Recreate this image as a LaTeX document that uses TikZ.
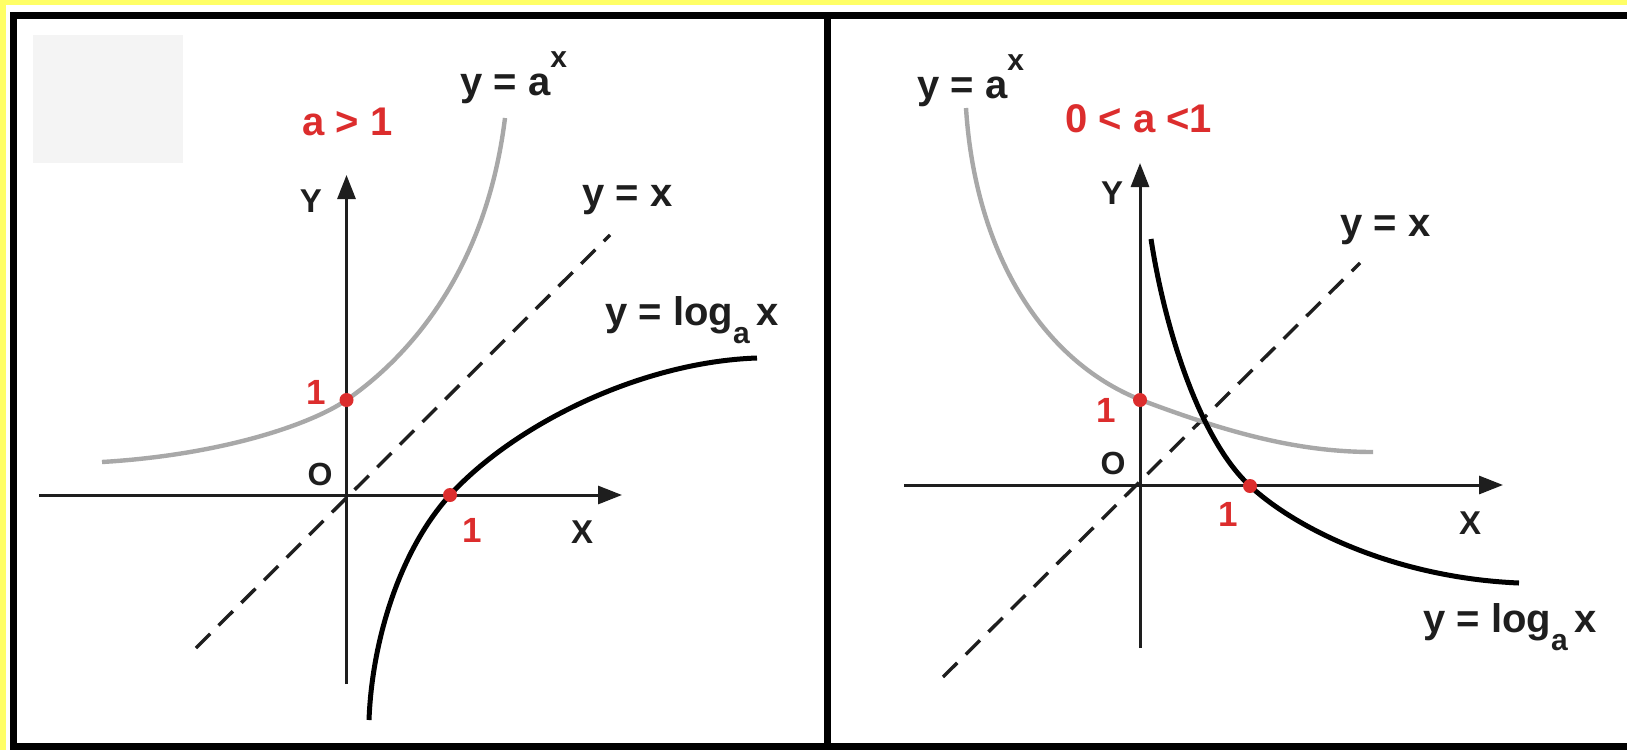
\documentclass[tikz,border=0pt]{standalone}
\usepackage{fontspec}
\setmainfont{Liberation Sans}
\usetikzlibrary{arrows.meta}
\definecolor{ylw}{RGB}{255,255,102}
\definecolor{ink}{RGB}{30,30,30}
\definecolor{redt}{RGB}{220,45,45}
\definecolor{curvegray}{RGB}{168,168,168}
\definecolor{faint}{RGB}{244,244,244}
\newcommand{\supx}{\raisebox{14pt}{\fontsize{15pt}{15pt}\selectfont x}}
\newcommand{\suba}{\raisebox{-9pt}{\fontsize{15pt}{15pt}\selectfont a}}
\begin{document}
\begin{tikzpicture}[x=0.5pt,y=-0.5pt,
  lbl/.style={font=\fontsize{20pt}{22pt}\selectfont\bfseries, text=ink, inner sep=0pt},
  axlbl/.style={lbl, font=\fontsize{16.5pt}{18pt}\selectfont\bfseries},
  olbl/.style={lbl, font=\fontsize{16pt}{18pt}\selectfont\bfseries},
  rlbl/.style={lbl, text=redt},
  onelbl/.style={lbl, text=redt, font=\fontsize{17.5pt}{19pt}\selectfont\bfseries},
  axis/.style={line width=1.5pt, draw=ink, -{Triangle[length=12pt,width=9pt]}},
  expc/.style={line width=2.2pt, draw=curvegray},
  logc/.style={line width=2.5pt, draw=black},
  idl/.style={line width=1.7pt, draw=ink, dash pattern=on 10pt off 6pt},
  dotn/.style={circle, fill=redt, inner sep=0pt, minimum size=7pt},
  frame/.style={line width=3.5pt, draw=black}]
\useasboundingbox (0,0) rectangle (1627,750);
\fill[white] (0,0) rectangle (1627,750);
\fill[ylw] (0,0) rectangle (1627,4.5);
\fill[ylw] (0,0) rectangle (6,750);
\fill[faint] (33,35) rectangle (183,163);
% frame
\draw[frame] (10,15.5) -- (1627,15.5);
\draw[frame] (13.5,12) -- (13.5,750);
\draw[frame] (10,746.5) -- (1627,746.5);
\draw[frame] (827.5,12) -- (827.5,750);

% ---------- left panel ----------
\coordinate (LxA) at (39,495);
\coordinate (LxB) at (622,495);
\coordinate (LyA) at (346.5,684);
\coordinate (LyB) at (346.5,175);
\coordinate (LdA) at (196,648);
\coordinate (LdB) at (610,235);
\draw[idl] (LdA) -- (LdB);
\draw[axis] (LxA) -- (LxB);
\draw[axis] (LyA) -- (LyB);
\draw[expc] (102,462) .. controls (220,455) and (310,425) .. (346.5,400)
                      .. controls (400,363) and (485,280) .. (505,118);
\draw[logc] (369,720) .. controls (372,640) and (400,550) .. (450,495)
                      .. controls (514,425) and (640,362) .. (757,358);
\node[dotn] (L1y) at (346.5,400) {};
\node[dotn] (L1x) at (450,495) {};
\node[lbl, anchor=base west] (Lexp) at (460,95) {y = a\supx};
\node[rlbl, anchor=base west] (Lcond) at (302,135) {a > 1};
\node[axlbl] (LY) at (311,201) {Y};
\node[lbl, anchor=base west] (Lid) at (582,206) {y = x};
\node[lbl, anchor=base west] (Llog) at (605,325) {y = log\suba\,x};
\node[olbl] (LO) at (320,474) {O};
\node[onelbl] (Lone1) at (316,392) {1};
\node[onelbl] (Lone2) at (472,530) {1};
\node[axlbl] (LX) at (582,532) {X};

% ---------- right panel ----------
\coordinate (RxA) at (904,485);
\coordinate (RxB) at (1503,485);
\coordinate (RyA) at (1140,648);
\coordinate (RyB) at (1140,163);
\coordinate (RdA) at (943,677);
\coordinate (RdB) at (1360,263);
\draw[idl] (RdA) -- (RdB);
\draw[axis] (RxA) -- (RxB);
\draw[axis] (RyA) -- (RyB);
\draw[expc] (966,108) .. controls (975,250) and (1040,360) .. (1141,400)
                      .. controls (1231,434) and (1300,452) .. (1373,452);
\draw[logc] (1151,239) .. controls (1165,330) and (1200,440) .. (1250,486)
                       .. controls (1300,532) and (1400,578) .. (1519,583);
\node[dotn] (R1y) at (1140,400) {};
\node[dotn] (R1x) at (1250,486) {};
\node[lbl, anchor=base west] (Rexp) at (917,98) {y = a\supx};
\node[rlbl, anchor=base west] (Rcond) at (1065,132) {0 < a <1};
\node[axlbl] (RY) at (1112,193) {Y};
\node[lbl, anchor=base west] (Rid) at (1340,236) {y = x};
\node[lbl, anchor=base west] (Rlog) at (1423,632) {y = log\suba\,x};
\node[olbl] (RO) at (1113,463) {O};
\node[onelbl] (Rone1) at (1106,410) {1};
\node[onelbl] (Rone2) at (1228,514) {1};
\node[axlbl] (RX) at (1470,523) {X};
\end{tikzpicture}
\end{document}
